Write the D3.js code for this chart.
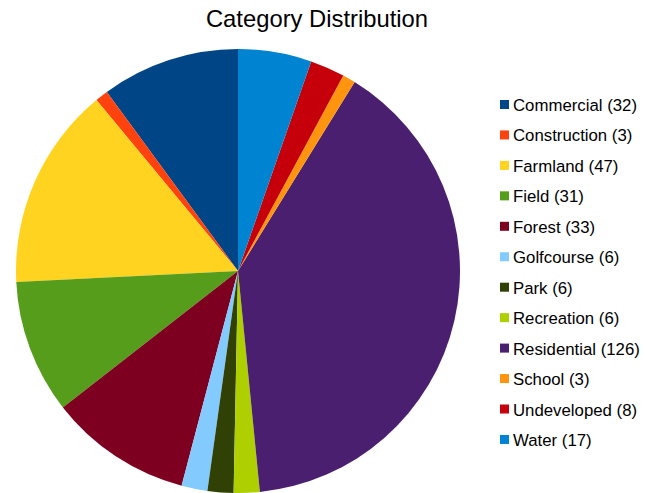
<!DOCTYPE html>
<html>
<head>
<meta charset="utf-8">
<script src="https://cdn.jsdelivr.net/npm/d3@7"></script>
<style>
  body { margin: 0; background: #fff; }
  text { font-family: "Liberation Sans", Arial, sans-serif; }
</style>
</head>
<body>
<div id="chart"></div>
<script>
// category counts, legend order
const categories = ["Commercial", "Construction", "Farmland", "Field", "Forest", "Golfcourse",
  "Park", "Recreation", "Residential", "School", "Undeveloped", "Water"];
const counts = [32, 3, 47, 31, 33, 6, 6, 6, 126, 3, 8, 17];
const colors = ["#004586", "#ff420e", "#ffd320", "#579d1c", "#7e0021", "#83caff",
  "#314004", "#aecf00", "#4b1f6f", "#ff950e", "#c5000b", "#0084d1"];

const WIDTH = 645, HEIGHT = 493;
const cx = 238, cy = 271, R = 222;

const svg = d3.select("#chart").append("svg")
  .attr("width", WIDTH).attr("height", HEIGHT);

svg.append("text")
  .attr("x", 317).attr("y", 27)
  .attr("text-anchor", "middle")
  .attr("font-size", 23.8)
  .attr("fill", "#000")
  .text("Category Distribution");

const data = categories.map((c, i) => ({ name: c, value: counts[i], color: colors[i] }));

// slices run counter-clockwise from 12 o'clock in legend order
const pie = d3.pie().value(d => d.value).sort(null)
  .startAngle(0).endAngle(-2 * Math.PI);
const arc = d3.arc().innerRadius(0).outerRadius(R);

svg.append("g").attr("transform", `translate(${cx},${cy})`)
  .selectAll("path")
  .data(pie(data))
  .join("path")
    .attr("d", arc)
    .attr("fill", d => d.data.color);

// legend
const legend = svg.append("g").attr("transform", "translate(500,105)");
const row = legend.selectAll("g")
  .data(data)
  .join("g")
    .attr("transform", (d, i) => `translate(0,${i * 30.45})`);
row.append("rect")
  .attr("x", 0).attr("y", -5).attr("width", 9).attr("height", 9)
  .attr("fill", d => d.color);
row.append("text")
  .attr("x", 13).attr("y", 6)
  .attr("font-size", 16.8)
  .attr("fill", "#000")
  .text(d => `${d.name} (${d.value})`);
</script>
</body>
</html>
